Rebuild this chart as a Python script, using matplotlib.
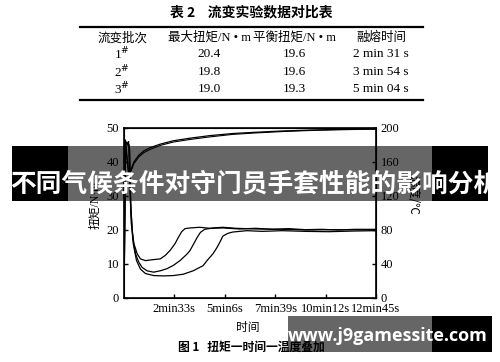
import matplotlib
matplotlib.use('Agg')
import matplotlib.pyplot as plt
from matplotlib.patches import Rectangle
from matplotlib.lines import Line2D

plt.rcParams['font.family'] = ['Liberation Serif', 'Noto Sans CJK SC', 'DejaVu Sans']
CJK = ['Noto Sans CJK SC', 'DejaVu Sans']

# 表格数据
table_title = '表 2    流变实验数据对比表'
headers = ['流变批次', '最大扭矩/N • m', '平衡扭矩/N • m', '融熔时间']
batches = ['1', '2', '3']
max_torque = ['20.4', '19.8', '19.0']
eq_torque = ['19.6', '19.6', '19.3']
melt_time = ['2 min 31 s', '3 min 54 s', '5 min 04 s']

# 扭矩曲线 (时间 s, 扭矩 N·m)
t1 = [0, 4, 14, 18, 22, 30, 40, 50, 65, 90, 110, 125, 140, 155, 165, 175, 185, 200,
      230, 260, 300, 350, 400, 450, 500, 550, 600, 650, 700, 765]
v1 = [0, 45, 46, 32, 22, 16, 13, 11.5, 11, 11.3, 11.5, 12.5, 14, 16, 17.8, 19.5, 20.4, 20.6,
      20.8, 20.5, 20.6, 20.3, 20.5, 20.2, 20.4, 20.1, 20.2, 20.0, 20.2, 20.2]
t2 = [0, 5, 16, 20, 26, 35, 45, 55, 70, 90, 110, 130, 150, 170, 190, 200, 212, 222, 232,
      245, 270, 300, 340, 400, 480, 560, 640, 765]
v2 = [0, 46, 45, 28, 18, 13, 10.5, 9, 8, 7.6, 8, 8.6, 9.6, 11, 12.8, 13.9, 16, 17.8, 19.3,
      20.2, 20.6, 20.8, 20.5, 20.3, 20.2, 20.0, 20.1, 20.0]
t3 = [0, 5, 17, 21, 28, 38, 50, 65, 90, 120, 150, 180, 210, 240, 252, 270, 282, 292, 300,
      315, 330, 373, 420, 480, 550, 620, 700, 765]
v3 = [0, 46, 44, 26, 16, 11, 8.5, 7.2, 6.6, 6.5, 6.6, 7.0, 8.0, 9.5, 11, 13, 14.8, 16.6, 18.2,
      19.0, 19.4, 19.8, 19.6, 19.8, 19.6, 19.5, 19.7, 19.8]

# 温度曲线 (时间 s, 温度 ℃)
tt = [0, 4, 8, 14, 20, 30, 45, 60, 80, 110, 150, 200, 260, 330, 400, 480, 560, 640, 720, 765]
temp1 = [186, 186, 170, 148, 150, 160, 168, 173, 177, 181, 185, 188, 191, 193.5, 195, 196.5,
         197.5, 198.3, 198.8, 199]
temp2 = [184, 184, 168, 146, 148, 158, 166, 171, 175, 179.5, 183.5, 186.5, 189.5, 192.5, 194.2,
         195.8, 197, 197.8, 198.4, 198.6]

xticks = [153, 306, 459, 612, 765]
xtick_labels = ['2min33s', '5min6s', '7min39s', '10min12s', '12min45s']

W, H = 500, 362


def fx(x):
    return x / W


def fy(y):
    return 1 - y / H


fig = plt.figure(figsize=(5, 3.62), dpi=100, facecolor='white')

# 表格
fig.text(fx(251), fy(12), table_title, ha='center', va='center', fontsize=10,
         fontweight='bold', family=CJK)
fig.add_artist(Line2D([fx(80), fx(423)], [fy(27), fy(27)], color='black', lw=1.6))
fig.add_artist(Line2D([fx(80), fx(423)], [fy(100), fy(100)], color='black', lw=1.6))
col_x = [122, 209, 294, 381]
for cx, h in zip(col_x, headers):
    fig.text(fx(cx), fy(38), h, ha='center', va='center', fontsize=9)
row_y = [54, 72, 89]
for i, ry in enumerate(row_y):
    fig.text(fx(col_x[0]), fy(ry), batches[i] + r'$^{\#}$', ha='center', va='center', fontsize=9.5)
    fig.text(fx(col_x[1]), fy(ry), max_torque[i], ha='center', va='center', fontsize=9.5)
    fig.text(fx(col_x[2]), fy(ry), eq_torque[i], ha='center', va='center', fontsize=9.5)
    fig.text(fx(col_x[3]), fy(ry), melt_time[i], ha='center', va='center', fontsize=9.5)

# 图 1
ax = fig.add_axes([fx(124), fy(298), (376 - 124) / W, (298 - 128) / H])
ax.plot(t1, v1, color='black', lw=0.9)
ax.plot(t2, v2, color='black', lw=0.9)
ax.plot(t3, v3, color='black', lw=0.9)
ax.set_xlim(0, 765)
ax.set_ylim(0, 50)
ax.set_yticks([0, 10, 20, 30, 40, 50])
ax.set_xticks(xticks)
ax.set_xticklabels(xtick_labels)
ax.tick_params(direction='in', labelsize=9, length=3, width=1)
for s in ax.spines.values():
    s.set_linewidth(1.2)

ax2 = ax.twinx()
ax2.plot(tt, temp1, color='black', lw=0.9)
ax2.plot(tt, temp2, color='black', lw=0.8)
ax2.set_ylim(0, 200)
ax2.set_yticks([0, 40, 80, 120, 160, 200])
ax2.tick_params(direction='in', labelsize=9, length=3, width=1)

fig.text(fx(95), fy(205), '扭矩/N·m', rotation=90, ha='center', va='center', fontsize=8.5)
fig.text(fx(413), fy(195), '温度/℃', rotation=270, ha='center', va='center', fontsize=8.5,
         family=CJK)
fig.text(fx(248), fy(327), '时间', ha='center', va='center', fontsize=8.5, family=CJK)
fig.text(fx(251), fy(347), '图 1   扭矩一时间一温度叠加', ha='center', va='center',
         fontsize=8.5, fontweight='bold', family=CJK)

# 横幅
fig.add_artist(Rectangle((fx(12), fy(201)), (68 - 12) / W, 55 / H, transform=fig.transFigure,
                         facecolor='black', edgecolor='none', zorder=10))
fig.add_artist(Rectangle((fx(68), fy(201)), (432 - 68) / W, 55 / H, transform=fig.transFigure,
                         facecolor='black', alpha=0.6, edgecolor='none', zorder=10))
fig.add_artist(Rectangle((fx(432), fy(201)), (488 - 432) / W, 55 / H, transform=fig.transFigure,
                         facecolor='black', edgecolor='none', zorder=10))
fig.text(fx(255), fy(184), '不同气候条件对守门员手套性能的影响分析', ha='center', va='center',
         fontsize=18.5, fontweight='bold', color='white', family=CJK, zorder=11)

# 水印
fig.add_artist(Rectangle((fx(288), fy(352)), (432 - 288) / W, 36 / H, transform=fig.transFigure,
                         facecolor='black', alpha=0.6, edgecolor='none', zorder=10))
fig.add_artist(Rectangle((fx(432), fy(352)), (492 - 432) / W, 36 / H, transform=fig.transFigure,
                         facecolor='black', edgecolor='none', zorder=10))
fig.text(fx(388), fy(336), 'www.j9gamessite.com', ha='center', va='center', fontsize=13,
         fontweight='bold', color='white', family=['Open Sans', 'DejaVu Sans'], zorder=11)

plt.savefig('out.png', dpi=100)
plt.close(fig)
